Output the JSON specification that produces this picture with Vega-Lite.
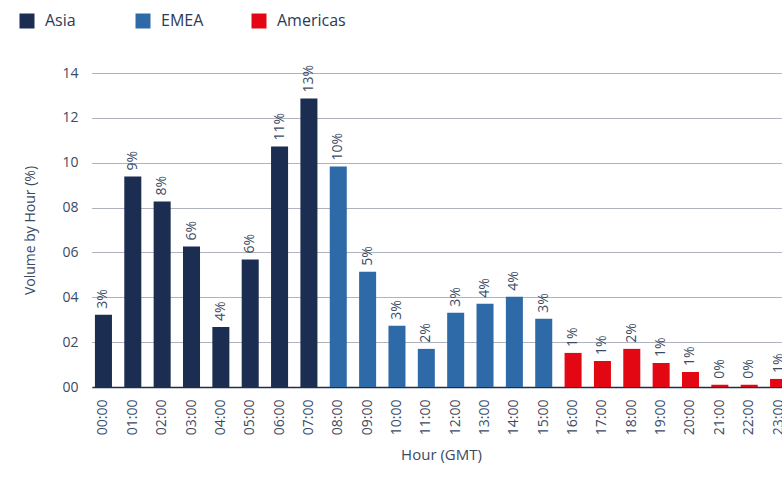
{
  "$schema": "https://vega.github.io/schema/vega-lite/v6.json",
  "width": 698,
  "height": 314,
  "autosize": {"type": "none"},
  "padding": {"left": 92, "top": 73, "right": 0, "bottom": 90},
  "background": "white",
  "config": {
    "view": {"stroke": null},
    "font": "Open Sans",
    "axis": {"labelFont": "Open Sans", "titleFont": "Open Sans"},
    "legend": {"labelFont": "Open Sans"}
  },
  "data": {
    "values": [
      {"hour": "00:00", "region": "Asia", "value": 3.22, "label": "3%"},
      {"hour": "01:00", "region": "Asia", "value": 9.38, "label": "9%"},
      {"hour": "02:00", "region": "Asia", "value": 8.27, "label": "8%"},
      {"hour": "03:00", "region": "Asia", "value": 6.26, "label": "6%"},
      {"hour": "04:00", "region": "Asia", "value": 2.68, "label": "4%"},
      {"hour": "05:00", "region": "Asia", "value": 5.68, "label": "6%"},
      {"hour": "06:00", "region": "Asia", "value": 10.72, "label": "11%"},
      {"hour": "07:00", "region": "Asia", "value": 12.86, "label": "13%"},
      {"hour": "08:00", "region": "EMEA", "value": 9.83, "label": "10%"},
      {"hour": "09:00", "region": "EMEA", "value": 5.14, "label": "5%"},
      {"hour": "10:00", "region": "EMEA", "value": 2.73, "label": "3%"},
      {"hour": "11:00", "region": "EMEA", "value": 1.70, "label": "2%"},
      {"hour": "12:00", "region": "EMEA", "value": 3.31, "label": "3%"},
      {"hour": "13:00", "region": "EMEA", "value": 3.71, "label": "4%"},
      {"hour": "14:00", "region": "EMEA", "value": 4.02, "label": "4%"},
      {"hour": "15:00", "region": "EMEA", "value": 3.04, "label": "3%"},
      {"hour": "16:00", "region": "Americas", "value": 1.52, "label": "1%"},
      {"hour": "17:00", "region": "Americas", "value": 1.16, "label": "1%"},
      {"hour": "18:00", "region": "Americas", "value": 1.70, "label": "2%"},
      {"hour": "19:00", "region": "Americas", "value": 1.07, "label": "1%"},
      {"hour": "20:00", "region": "Americas", "value": 0.67, "label": "1%"},
      {"hour": "21:00", "region": "Americas", "value": 0.10, "label": "0%"},
      {"hour": "22:00", "region": "Americas", "value": 0.10, "label": "0%"},
      {"hour": "23:00", "region": "Americas", "value": 0.36, "label": "1%"}
    ]
  },
  "encoding": {
    "x": {
      "field": "hour",
      "type": "ordinal",
      "sort": null,
      "scale": {"paddingInner": 0.42, "paddingOuter": 0.1},
      "axis": {
        "title": "Hour (GMT)",
        "titleFontSize": 15,
        "titleFontWeight": "normal",
        "titleColor": "#3b4a63",
        "titlePadding": 13,
        "labelAngle": -90,
        "labelAlign": "right",
        "labelBaseline": "middle",
        "labelFontSize": 14,
        "labelColor": "#3b4a63",
        "labelPadding": 12,
        "ticks": false,
        "domainColor": "#1b2d50",
        "domainWidth": 1.5,
        "grid": false
      }
    },
    "y": {
      "field": "value",
      "type": "quantitative",
      "scale": {"domain": [0, 14], "nice": false},
      "axis": {
        "title": "Volume by Hour (%)",
        "titleFontSize": 14,
        "titleFontWeight": "normal",
        "titleColor": "#3b4a63",
        "titlePadding": 24,
        "values": [0, 2, 4, 6, 8, 10, 12, 14],
        "format": "02d",
        "labelFontSize": 14,
        "labelColor": "#3b4a63",
        "labelPadding": 14,
        "ticks": false,
        "domain": false,
        "grid": true,
        "gridDash": [1, 1],
        "gridColor": "#5e677a",
        "gridWidth": 1
      }
    }
  },
  "layer": [
    {
      "mark": {"type": "bar"},
      "encoding": {
        "color": {
          "field": "region",
          "type": "nominal",
          "scale": {"domain": ["Asia", "EMEA", "Americas"], "range": ["#1b2d50", "#2e6aa7", "#e30613"]},
          "legend": {
            "title": null,
            "orient": "none",
            "legendX": -73,
            "legendY": -60,
            "direction": "horizontal",
            "symbolType": "square",
            "symbolSize": 225,
            "symbolStrokeWidth": 0,
            "labelFontSize": 16,
            "labelColor": "#2b3a55",
            "labelOffset": 10,
            "columnPadding": 21,
            "gridAlign": "all",
            "padding": 0
          }
        }
      }
    },
    {
      "mark": {
        "type": "text",
        "angle": 270,
        "align": "left",
        "baseline": "middle",
        "dx": 6,
        "fontSize": 14,
        "color": "#3b4a63"
      },
      "encoding": {
        "text": {"field": "label", "type": "nominal"}
      }
    }
  ]
}
